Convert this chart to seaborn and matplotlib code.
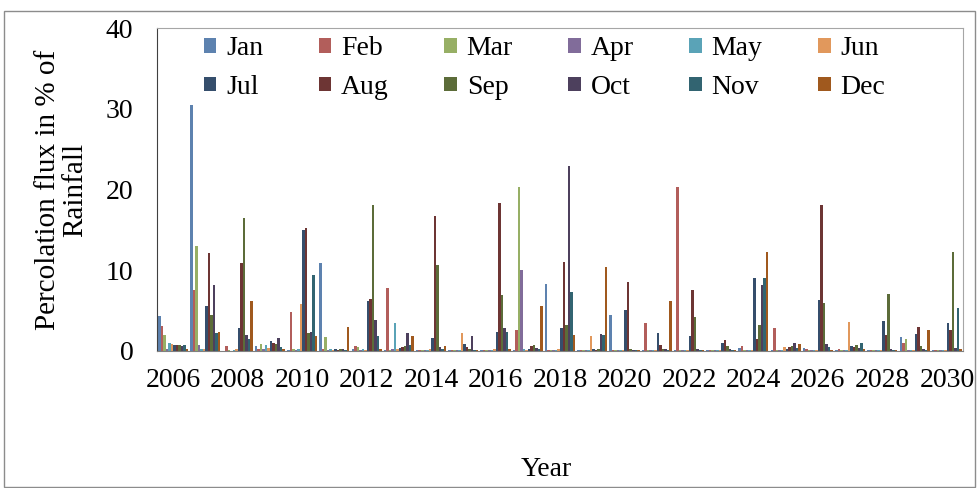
import pandas as pd
import numpy as np
import seaborn as sns
import matplotlib.pyplot as plt
from matplotlib.patches import Rectangle

years = [str(y) for y in range(2006, 2031)]
months = ['Jan', 'Feb', 'Mar', 'Apr', 'May', 'Jun',
          'Jul', 'Aug', 'Sep', 'Oct', 'Nov', 'Dec']

# percolation flux (% of rainfall), one list per month, 2006..2030
jan = [4.3, 30.5, 0.0, 0.6, 0.1, 10.9, 0.3, 0.1, 0.1, 0.1, 0.1, 0.1, 8.3, 0.1, 4.5, 0.1, 0.1, 0.1, 0.4, 0.1, 0.4, 0.1, 0.1, 1.7, 0.1]
feb = [3.1, 7.5, 0.6, 0.3, 4.8, 0.2, 0.6, 7.8, 0.1, 0.1, 0.1, 2.6, 0.1, 0.1, 0.1, 3.5, 20.3, 0.1, 0.6, 2.8, 0.2, 0.2, 0.1, 1.0, 0.1]
mar = [2.0, 13.0, 0.1, 0.9, 0.2, 1.7, 0.5, 0.1, 0.1, 0.1, 0.1, 20.3, 0.1, 0.1, 0.1, 0.1, 0.1, 0.1, 0.1, 0.1, 0.1, 0.1, 0.1, 1.5, 0.1]
apr = [0.3, 0.8, 0.0, 0.2, 0.1, 0.1, 0.1, 0.2, 0.1, 0.1, 0.1, 10.0, 0.1, 0.1, 0.1, 0.1, 0.1, 0.1, 0.1, 0.1, 0.1, 0.1, 0.1, 0.1, 0.1]
may = [1.0, 0.3, 0.1, 0.8, 0.3, 0.2, 0.2, 3.5, 0.1, 0.1, 0.1, 0.2, 0.1, 0.1, 0.1, 0.1, 0.1, 0.1, 0.1, 0.1, 0.1, 0.1, 0.1, 0.1, 0.1]
jun = [0.9, 0.2, 0.3, 0.4, 5.8, 0.1, 0.1, 0.3, 0.2, 2.2, 0.2, 0.1, 0.2, 1.9, 0.1, 0.1, 0.1, 0.1, 0.1, 0.5, 0.1, 3.6, 0.1, 0.1, 0.1]
jul = [0.8, 5.6, 2.8, 1.3, 15.0, 0.2, 6.2, 0.4, 1.6, 0.9, 2.3, 0.3, 2.8, 0.2, 5.1, 2.2, 1.9, 1.0, 9.0, 0.3, 6.3, 0.6, 3.7, 2.1, 3.5]
aug = [0.7, 12.1, 10.9, 1.0, 15.2, 0.1, 6.4, 0.5, 16.7, 0.5, 18.3, 0.6, 11.0, 0.1, 8.5, 0.8, 7.5, 1.4, 1.5, 0.5, 18.1, 0.5, 2.0, 3.0, 2.6]
sep = [0.8, 4.5, 16.5, 0.9, 2.2, 0.2, 18.1, 0.6, 10.7, 0.3, 6.9, 0.8, 3.2, 0.3, 0.2, 0.3, 4.2, 0.6, 3.2, 0.6, 6.0, 0.8, 7.1, 0.6, 12.3]
oct = [0.6, 8.2, 2.0, 1.6, 2.3, 0.3, 3.8, 2.2, 0.5, 1.8, 2.8, 0.4, 22.9, 2.1, 0.1, 0.2, 0.3, 0.2, 8.2, 1.0, 0.9, 0.4, 0.3, 0.3, 0.4]
nov = [0.8, 2.2, 1.5, 0.5, 9.4, 0.1, 1.8, 0.8, 0.3, 0.1, 2.3, 0.2, 7.3, 2.0, 0.1, 0.1, 0.1, 0.1, 9.0, 0.4, 0.5, 1.0, 0.1, 0.1, 5.3]
dec = [0.2, 2.3, 6.2, 0.2, 1.8, 3.0, 0.3, 1.9, 0.6, 0.1, 0.3, 5.6, 2.0, 10.4, 0.1, 6.2, 0.1, 0.1, 12.2, 0.9, 0.1, 0.3, 0.1, 2.6, 0.3]

colors = ['#4F81BD', '#C0504D', '#9BBB59', '#8064A2', '#4BACC6', '#F79646',
          '#2C4D75', '#772C2A', '#5F7530', '#4D3B62', '#276A7C', '#B65708']

wide = pd.DataFrame(dict(zip(months, [jan, feb, mar, apr, may, jun,
                                      jul, aug, sep, oct, nov, dec])))
wide['Year'] = years
df = wide.melt(id_vars='Year', var_name='Month', value_name='Flux')

plt.rcParams['font.family'] = ['Liberation Serif', 'DejaVu Serif']

fig = plt.figure(figsize=(9.78, 4.88), dpi=100)
ax = fig.add_axes([157/978, 1-351/488, 806/978, 323/488])

sns.barplot(data=df, x='Year', y='Flux', hue='Month', hue_order=months,
            order=years, palette=colors, width=0.934, gap=0, errorbar=None,
            linewidth=0, ax=ax)

ax.set_xlim(-0.5, len(years) - 0.5)
ax.set_ylim(0, 40)
ax.set_yticks([0, 10, 20, 30, 40])
ax.set_xticks(range(0, len(years), 2))
ax.set_xticklabels(years[::2])
ax.tick_params(axis='both', length=0, labelsize=20)
ax.tick_params(axis='y', pad=17)
ax.tick_params(axis='x', pad=12)
ax.set_xlabel('')
ax.set_ylabel('')

ax.spines['left'].set_color('#404040')
ax.spines['bottom'].set_color('#808080')
ax.spines['top'].set_color('#A6A6A6')
ax.spines['right'].set_color('#A6A6A6')

# legend fills column by column, so interleave to get Jan..Jun on the first row
handles, labels = ax.get_legend_handles_labels()
idx = [i + r * 6 for i in range(6) for r in range(2)]
ax.legend([handles[i] for i in idx], [labels[i] for i in idx], ncol=6,
          loc='upper left', bbox_to_anchor=((204-157)/806, (351-36)/323),
          frameon=False, fontsize=20, handlelength=0.45, handleheight=0.45,
          handletextpad=0.35, columnspacing=2.0, labelspacing=0.5,
          borderpad=0, borderaxespad=0)

fig.text(62/978, 1-190/488, 'Percolation flux in % of\nRainfall', rotation=90,
         ha='center', va='center', ma='center', fontsize=21, linespacing=1.05)
fig.text(546/978, 1-470/488, 'Year', ha='center', va='center', fontsize=20)

fig.patches.append(Rectangle((4/978, 1/488), 971/978, 476/488, transform=fig.transFigure,
                             fill=False, edgecolor='#8C8C8C', linewidth=1))

fig.savefig('out.png', dpi=100)
